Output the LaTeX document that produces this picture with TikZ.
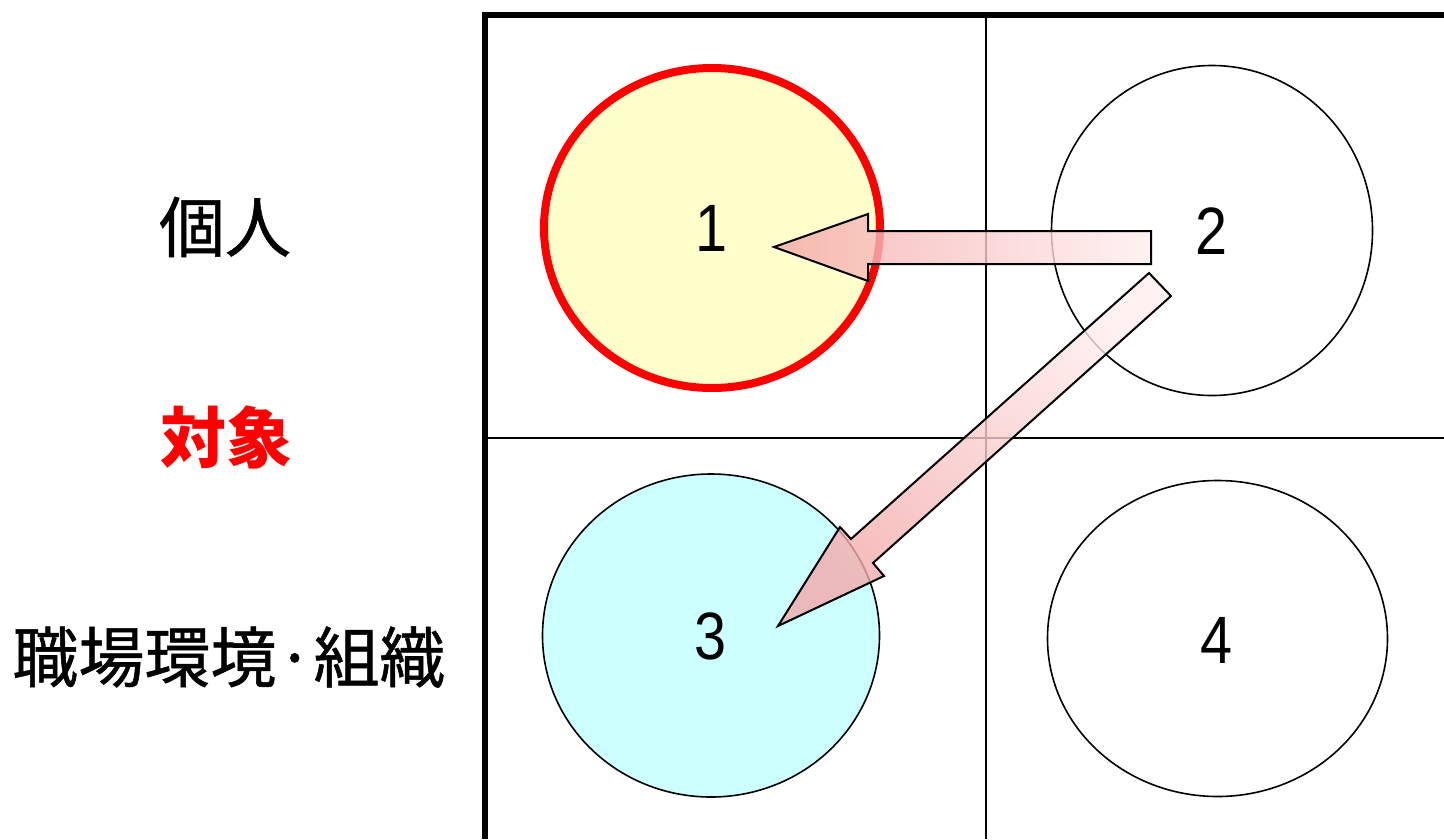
\documentclass[tikz,border=0pt]{standalone}
\usepackage{fontspec}
\setmainfont{Liberation Sans}
\newfontfamily\cjk[FakeBold=0.8]{Noto Sans CJK JP}
\newfontfamily\cjkbold{Noto Sans CJK JP}
\newfontfamily\digits[FakeStretch=0.86]{Liberation Sans}
\usetikzlibrary{shapes.geometric}
\definecolor{pinkdark}{RGB}{243,168,168}
\definecolor{pinklight}{RGB}{255,238,238}
\definecolor{lightyellow}{RGB}{255,255,204}
\definecolor{lightcyan}{RGB}{204,255,255}
\tikzset{
  frame/.style={line width=6pt, line join=miter},
  divider/.style={line width=2.5pt},
  cell/.style={ellipse, draw=black, line width=1.6pt, inner sep=0pt},
  digit/.style={font=\digits\fontsize{67}{70}\selectfont, inner sep=0pt},
  rowlabel/.style={font=\cjk\fontsize{66}{70}\selectfont, inner sep=0pt},
  blockarrow/.style={draw=black, line width=2pt, line join=miter, fill opacity=0.8},
}
\begin{document}
\begin{tikzpicture}[x=1pt, y=-1pt]
\useasboundingbox (0,0) rectangle (1444,839);
% grid
\draw[divider] (986,15) -- (986,839);
\draw[divider] (485,438) -- (1444,438);
\draw[frame] (485,839) -- (485,15) -- (1444,15);
% circles
\node[cell, draw=red, line width=8pt, fill=lightyellow, minimum width=336pt, minimum height=320pt] (c1) at (712,228) {};
\node[cell, minimum width=321pt, minimum height=330pt] (c2) at (1212,230.5) {};
\node[cell, fill=lightcyan, minimum width=337pt, minimum height=323pt] (c3) at (711,635.5) {};
\node[cell, minimum width=340pt, minimum height=316pt] (c4) at (1217.5,638.5) {};
\node[digit] (n1) at (712,228) {1};
\node[digit] (n2) at (1212,231) {2};
\node[digit] (n3) at (711,636) {3};
\node[digit] (n4) at (1217,640) {4};
% row labels
\node[rowlabel] (lab1) at (225,227) {個人};
\node[rowlabel, text=red, font=\cjkbold\bfseries\fontsize{66}{70}\selectfont] (lab2) at (226,437) {対象};
\node[rowlabel] (lab3) at (229,657) {職場環境·組織};
% block arrows from 2 to 1 and from 2 to 3
\path[blockarrow, left color=pinkdark, right color=pinklight]
  (1151,231) -- (868,231) -- (868,214) -- (774,247) -- (868,281) -- (868,264) -- (1151,264) -- cycle;
\path[blockarrow, top color=pinklight, bottom color=pinkdark, shading angle=-40]
  (1149,273) -- (851,539) -- (840,527) -- (778,626) -- (884,576) -- (873,563) -- (1171,296) -- cycle;
\end{tikzpicture}
\end{document}
